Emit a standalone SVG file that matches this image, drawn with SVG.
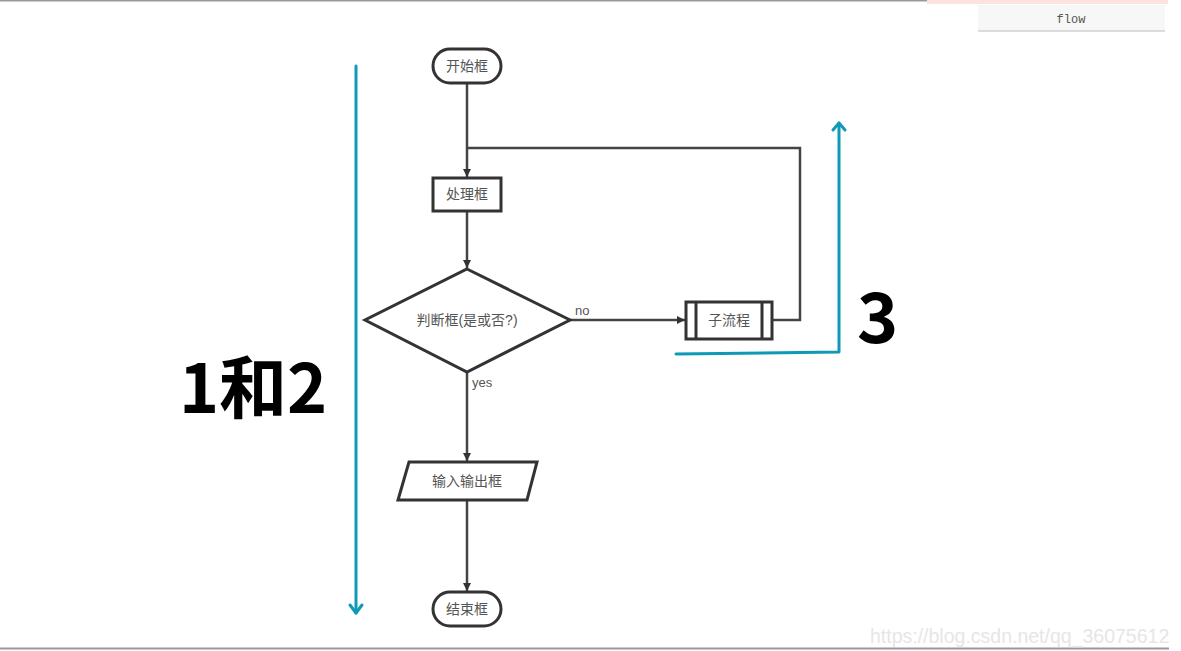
<svg xmlns="http://www.w3.org/2000/svg" width="1181" height="651" viewBox="0 0 1181 651">
<defs>
<style>
.shape{fill:#fff;stroke:#333;stroke-width:3}
.conn{fill:none;stroke:#444;stroke-width:2.5}
.lbl{font-family:"Liberation Sans","Noto Sans CJK SC",sans-serif;font-size:14px;fill:#555;text-anchor:middle}
.edge{font-family:"Liberation Sans",sans-serif;font-size:13px;fill:#555}
.blue{fill:none;stroke:#0e9ab5;stroke-width:3;stroke-linecap:round;stroke-linejoin:round}
.big{font-family:"Noto Sans CJK SC","Noto Sans",sans-serif;font-weight:bold;fill:#000}
</style>
<marker id="ah" markerWidth="10" markerHeight="10" refX="9" refY="5" orient="auto" markerUnits="userSpaceOnUse">
<path d="M1,1 L9,5 L1,9 Z" fill="#333"/>
</marker>
</defs>
<rect width="1181" height="651" fill="#fff"/>
<line x1="0" y1="0.5" x2="927" y2="0.5" stroke="#999" stroke-width="2"/>
<rect x="927" y="0" width="241" height="4" fill="#fde3de"/>
<rect x="978" y="5" width="187" height="26" fill="#f7f7f7"/>
<line x1="978" y1="31" x2="1165" y2="31" stroke="#bbb" stroke-width="1"/>
<text x="1071" y="23" font-family="Liberation Mono,monospace" font-size="12" fill="#555" text-anchor="middle">flow</text>
<line x1="0" y1="648.5" x2="1169" y2="648.5" stroke="#999" stroke-width="2"/>

<g id="connectors">
<line class="conn" x1="467" y1="83" x2="467" y2="177" marker-end="url(#ah)"/>
<line class="conn" x1="467" y1="211" x2="467" y2="268" marker-end="url(#ah)"/>
<line class="conn" x1="570" y1="320" x2="685" y2="320" marker-end="url(#ah)"/>
<polyline class="conn" points="772,320 800,320 800,148 467,148"/>
<line class="conn" x1="467" y1="372" x2="467" y2="461" marker-end="url(#ah)"/>
<line class="conn" x1="467" y1="500" x2="467" y2="591" marker-end="url(#ah)"/>
<text class="edge" x="575" y="315">no</text>
<text class="edge" x="472" y="387">yes</text>
</g>

<g id="start">
<rect class="shape" x="433" y="49" width="68" height="34" rx="17"/>
<text class="lbl" x="467" y="71">开始框</text>
</g>
<g id="process">
<rect class="shape" x="433" y="178" width="68" height="33"/>
<text class="lbl" x="467" y="199">处理框</text>
</g>
<g id="decision">
<polygon class="shape" points="467,269 570,320 467,372 365,320"/>
<text class="lbl" x="467" y="325">判断框(是或否?)</text>
</g>
<g id="subprocess">
<rect class="shape" x="686" y="302" width="86" height="37"/>
<line class="shape" x1="696" y1="302" x2="696" y2="339"/>
<line class="shape" x1="762" y1="302" x2="762" y2="339"/>
<text class="lbl" x="729" y="325">子流程</text>
</g>
<g id="io">
<polygon class="shape" points="409,462 537,462 527,500 398,500"/>
<text class="lbl" x="467" y="486">输入输出框</text>
</g>
<g id="end">
<rect class="shape" x="433" y="592" width="68" height="34" rx="17"/>
<text class="lbl" x="467" y="614">结束框</text>
</g>

<g id="annotations">
<line class="blue" x1="356" y1="66" x2="356" y2="613"/>
<polyline class="blue" points="350,605 356,613 362,605"/>
<polyline class="blue" points="676,354 839,352 839,123"/>
<polyline class="blue" points="833,130 839,123 845,130"/>
<text class="big" x="179" y="413" font-size="68">1和2</text>
<text class="big" x="857" y="343" font-size="70">3</text>
</g>
<text x="870" y="643" font-family="Liberation Sans,sans-serif" font-size="19.5" fill="#e6e6e6">https://blog.csdn.net/qq_36075612</text>
</svg>
